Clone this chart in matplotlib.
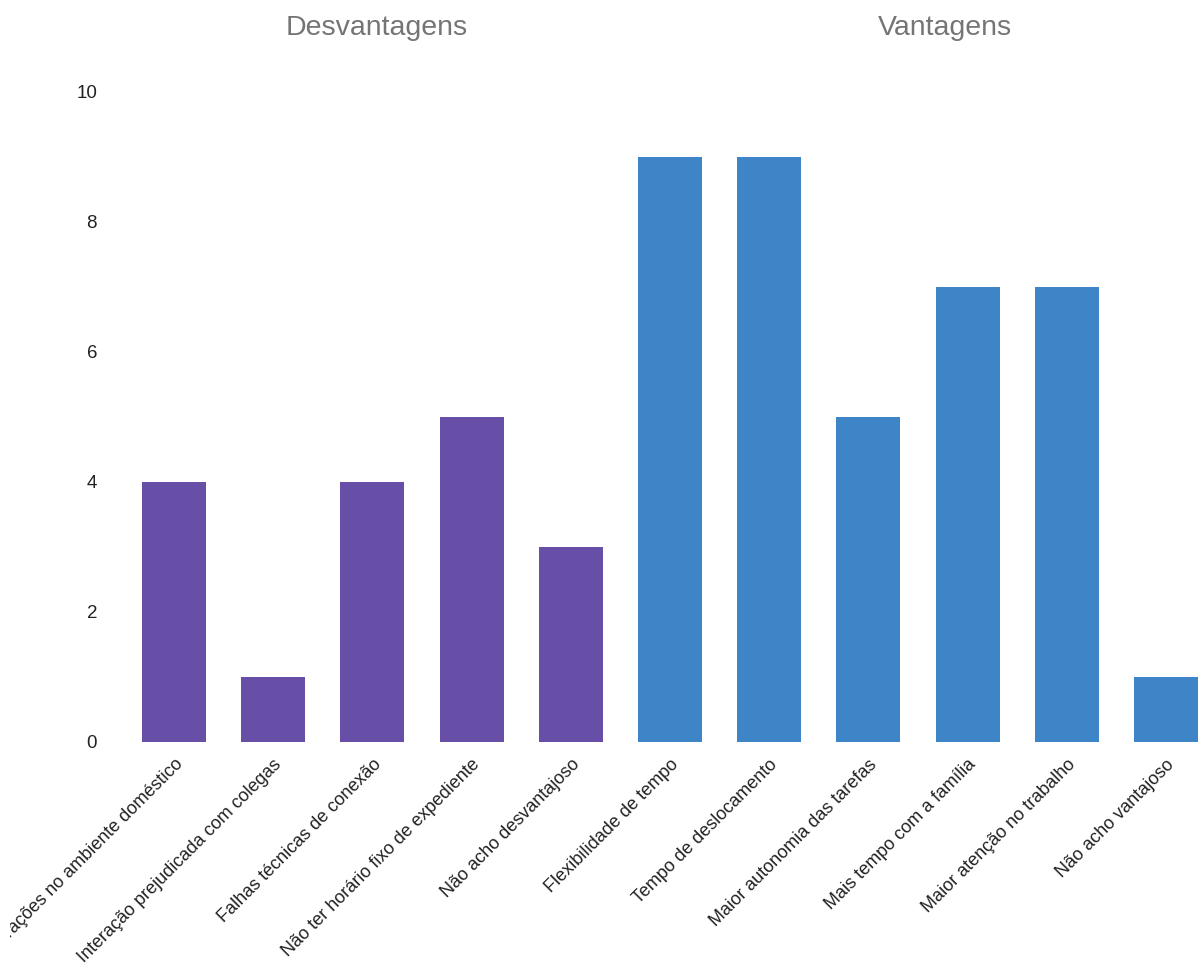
import matplotlib.pyplot as plt
from matplotlib.transforms import Bbox, TransformedBbox

plt.rcParams['font.family'] = ['Liberation Sans', 'DejaVu Sans']

# data
desv_labels = ["Distrações no ambiente doméstico", "Interação prejudicada com colegas",
               "Falhas técnicas de conexão", "Não ter horário fixo de expediente",
               "Não acho desvantajoso"]
desv_values = [4, 1, 4, 5, 3]
vant_labels = ["Flexibilidade de tempo", "Tempo de deslocamento",
               "Maior autonomia das tarefas", "Mais tempo com a família",
               "Maior atenção no trabalho", "Não acho vantajoso"]
vant_values = [9, 9, 5, 7, 7, 1]
y_ticks = [0, 2, 4, 6, 8, 10]

PURPLE = "#674ea7"
BLUE = "#3d85c6"

W, H = 1200, 968
fig = plt.figure(figsize=(W / 100, H / 100), dpi=100)
# plot area in pixels: x=-0.5 at 124.4px, x=10.5 at 1215.6px, y=0 at 742px, y=10 at 92px
ax = fig.add_axes([124.4 / W, (H - 742) / H, 1091.2 / W, 650 / H])

labels = desv_labels + vant_labels
x_desv = list(range(len(desv_values)))
x_vant = [len(desv_values) + i for i in range(len(vant_values))]

ax.bar(x_desv, desv_values, width=0.645, color=PURPLE)
ax.bar(x_vant, vant_values, width=0.645, color=BLUE)

ax.set_xlim(-0.5, len(labels) - 0.5)
ax.set_ylim(0, 10)
ax.set_yticks(y_ticks)
ax.tick_params(axis='y', length=0, pad=19.7, labelsize=13.5, labelcolor="#222222")

ax.set_xticks(range(len(labels)))
ax.set_xticklabels(labels, rotation=45, ha='right', va='top',
                   rotation_mode='anchor', fontsize=13, color="#222222")
ax.tick_params(axis='x', length=0, pad=10)

# the first label runs off the left side of the chart area, as in the original
clip = TransformedBbox(Bbox([[10 / W, 0], [1, 1]]), fig.transFigure)
for t in ax.get_xticklabels():
    t.set_clip_box(clip)
    t.set_clip_on(True)

for s in ax.spines.values():
    s.set_visible(False)

# group headings
fig.text(377 / W, 1 - 35 / H, "Desvantagens", ha='center', va='baseline',
         fontsize=20.5, color="#757575")
fig.text(945 / W, 1 - 35 / H, "Vantagens", ha='center', va='baseline',
         fontsize=20.5, color="#757575")

fig.savefig("out.png", dpi=100)
